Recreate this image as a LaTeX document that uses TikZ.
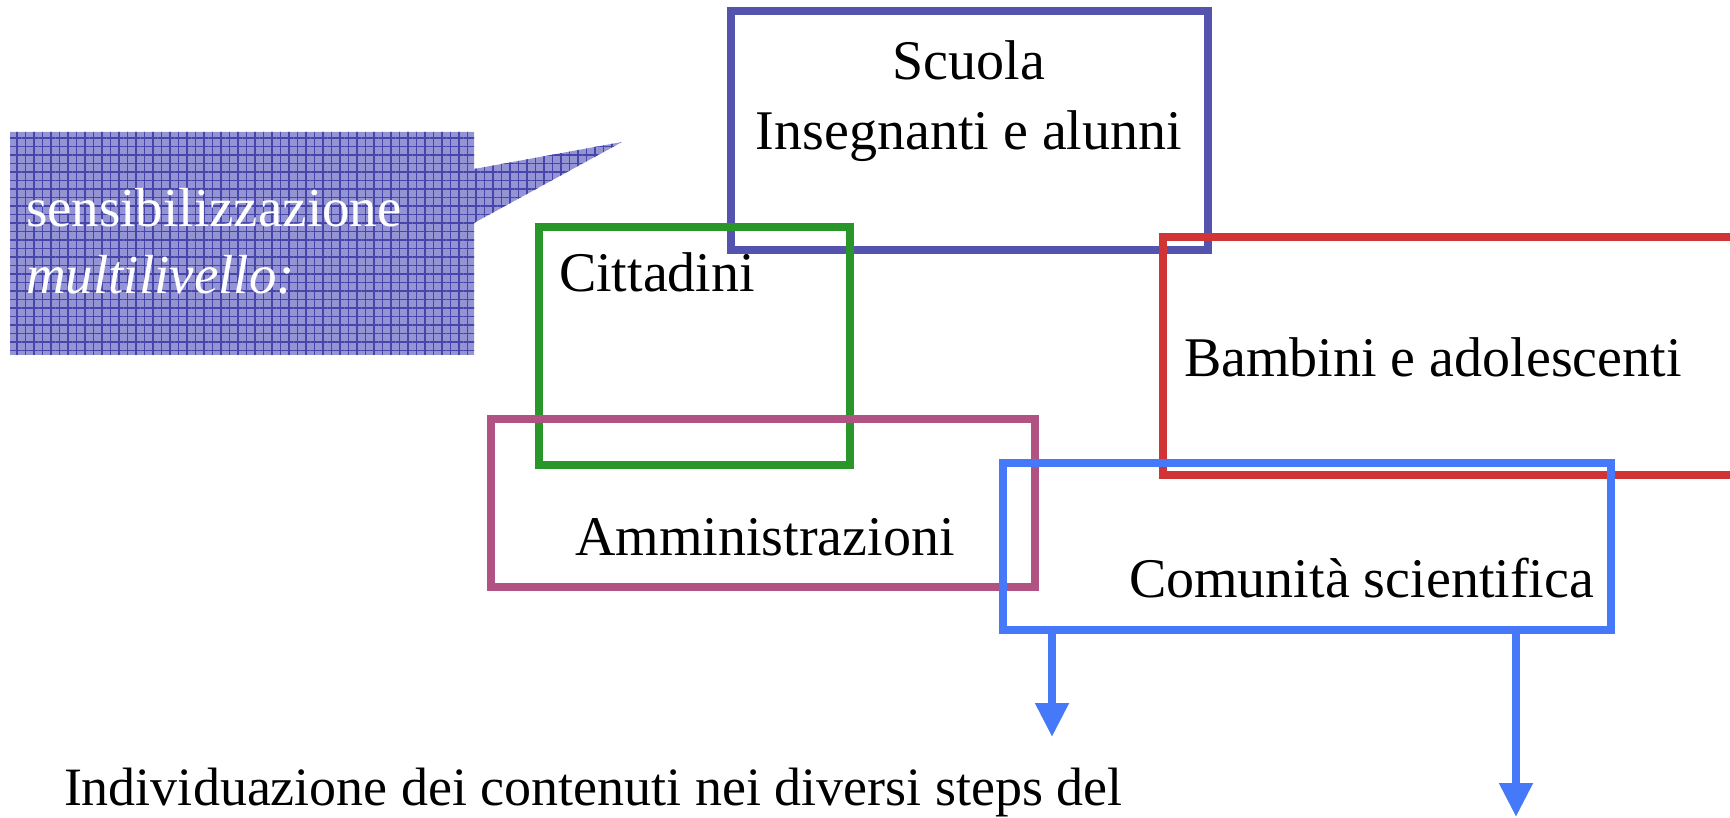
\documentclass[tikz,border=0pt]{standalone}
\usepackage{fontspec}
\setmainfont{Liberation Serif}
\usetikzlibrary{arrows.meta,patterns.meta}
\definecolor{callfill}{RGB}{148,148,212}
\definecolor{callgrid}{RGB}{70,70,170}
\definecolor{scuolac}{RGB}{84,84,174}
\definecolor{cittc}{RGB}{40,150,40}
\definecolor{amminc}{RGB}{176,82,130}
\definecolor{bambc}{RGB}{208,52,52}
\definecolor{commc}{RGB}{70,120,250}
\newcommand\calloutoutline{(10,132) -- (474,132) -- (474,169) -- (622,142) -- (474,223) -- (474,355) -- (10,355) -- cycle}
\begin{document}
\begin{tikzpicture}[x=1pt,y=-1pt,
  framebox/.style={rectangle, draw, line width=8pt, inner sep=0pt, outer sep=0pt, anchor=north west},
  lbl/.style={inner sep=0pt, outer sep=0pt, anchor=base west, font=\fontsize{56}{66}\selectfont},
  conn/.style={draw=commc, line width=8pt, -{Triangle[width=32pt,length=34pt]}}]
\useasboundingbox (0,0) rectangle (1730,818);
% callout
\fill[callfill] \calloutoutline;
\path[pattern={Lines[distance=8.5pt,angle=0,line width=1.2pt]}, pattern color=callgrid] \calloutoutline;
\path[pattern={Lines[distance=8.5pt,angle=90,line width=1.2pt]}, pattern color=callgrid] \calloutoutline;
\node[lbl, text=white, font=\fontsize{55}{66}\selectfont] (sens) at (26,227) {sensibilizzazione};
\node[lbl, text=white, font=\fontsize{55}{66}\selectfont] (multi) at (26,294) {\itshape multilivello:};
% boxes
\node[framebox, draw=scuolac, minimum width=477pt, minimum height=239pt] (scuola) at (731,11) {};
\node[framebox, draw=cittc, minimum width=311pt, minimum height=238pt] (citt) at (539,227) {};
\node[framebox, draw=amminc, minimum width=544pt, minimum height=168pt] (ammin) at (491,419) {};
\node[framebox, draw=bambc, minimum width=700pt, minimum height=238pt] (bamb) at (1163,237) {};
\node[framebox, draw=commc, minimum width=608pt, minimum height=167pt] (comm) at (1003,463) {};
% arrows
\coordinate (a1) at (1052,737);
\coordinate (a2) at (1516,817);
\draw[conn] (comm.south -| a1) -- (a1);
\draw[conn] (comm.south -| a2) -- (a2);
% labels
\node[lbl, anchor=base] (t1) at (969,80) {Scuola};
\node[lbl, anchor=base] (t2) at (969,150) {Insegnanti e alunni};
\node[lbl] (t3) at (559,292) {Cittadini};
\node[lbl] (t4) at (575,555) {Amministrazioni};
\node[lbl] (t5) at (1184,376) {Bambini e adolescenti};
\node[lbl] (t6) at (1129,597) {Comunità scientifica};
\node[lbl, font=\fontsize{54}{66}\selectfont] (t7) at (64,805) {Individuazione dei contenuti nei diversi steps del};
\end{tikzpicture}
\end{document}
